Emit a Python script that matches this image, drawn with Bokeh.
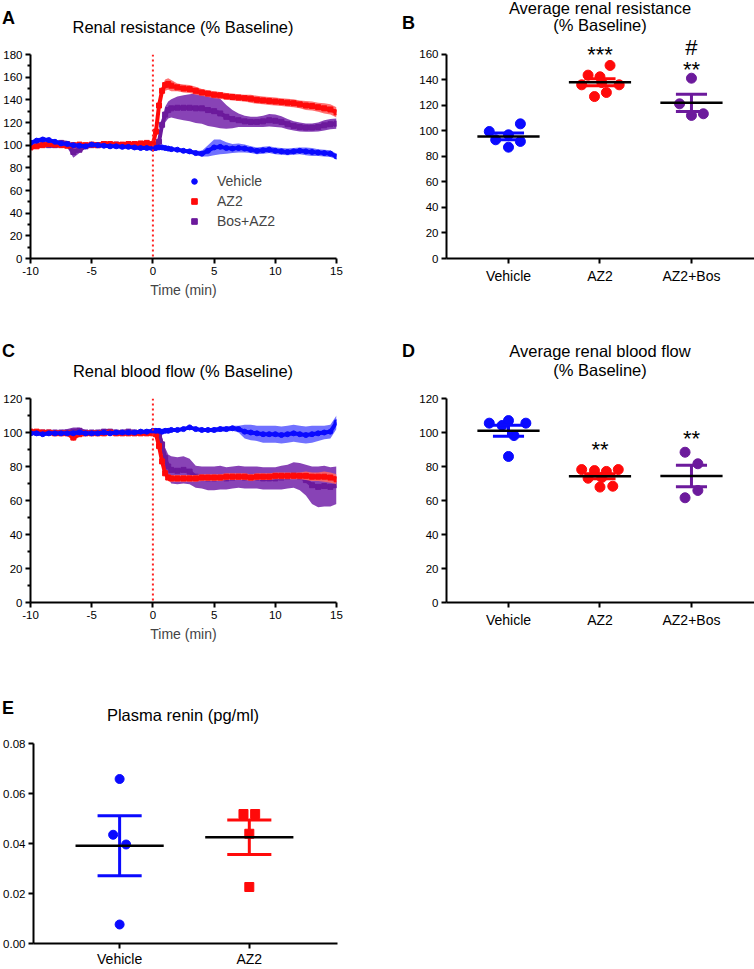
import numpy as np
from bokeh.plotting import figure
from bokeh.layouts import column, row
from bokeh.models import (Range1d, Span, Label, Legend, LegendItem, FixedTicker,
                          NumeralTickFormatter, Div)
from bokeh.embed import file_html
from bokeh.resources import INLINE

FONT = "Liberation Sans"
BLUE = "#0a0aff"
BLUE_BAND = "#6262ff"
RED = "#ff0a0a"
RED_BAND = "#ff6464"
PURPLE = "#6c1a9c"
PURPLE_BAND = "#7b2fae"

# ---------------- time-course data (minutes) ----------------
time_min = [-10, -9.5, -9, -8.5, -8, -7.5, -7, -6.5, -6, -5.5, -5, -4.5, -4, -3.5, -3, -2.5, -2, -1.5, -1, -0.5, 0,
            0.25, 0.5, 0.75, 1, 1.25, 1.5,
            2, 2.5, 3, 3.5, 4, 4.5, 5, 5.5, 6, 6.5, 7, 7.5, 8, 8.5, 9, 9.5, 10, 10.5, 11, 11.5, 12, 12.5, 13, 13.5, 14, 14.5, 15]

# Panel A: renal resistance (% baseline), mean and SEM
resist_vehicle_mean = [102, 104, 105, 104.5, 103, 101.5, 101, 100, 99.5, 99, 100.5, 100, 99.5, 99, 99, 98.5, 98.5, 98, 97.5, 97.5, 97,
                       97.5, 98, 98, 97.5, 97, 96.5,
                       96, 95, 94.5, 93, 92.5, 95, 98, 98.5, 97.5, 97, 97.5, 97, 96, 95, 95.5, 96, 95, 94.5, 94, 94.5, 95, 94.5, 94, 93.5, 93, 92.5, 90]
resist_vehicle_sem = [2, 2, 2, 1.5, 1.5, 1.5, 1.5, 1.5, 1.5, 1.5, 1.5, 1.5, 1.5, 1.5, 1.5, 1.5, 1.5, 1.5, 1.5, 1.5, 1.5,
                      1.5, 1.5, 1.5, 1.5, 1.5, 1.5,
                      1.5, 1.5, 2, 2, 2.5, 5, 7, 6.5, 5, 4, 4, 3.5, 3, 3, 3, 3, 3, 3, 3, 3, 3, 3.5, 3.5, 3, 3, 3, 2.5]
resist_az2_mean = [98, 99, 100, 101, 100.5, 100, 99.5, 100, 100.5, 100, 100.5, 100, 101, 101, 100.5, 100.5, 101, 101, 101.5, 102, 101,
                   112, 135, 148, 153, 154, 152.5,
                   151, 150, 149.5, 148, 146.5, 145.5, 144.5, 144, 143, 142.5, 142, 141.5, 141, 140, 139.5, 139, 138.5, 138, 137.5, 137, 136, 135, 134.5, 133.5, 132.5, 131.5, 129]
resist_az2_sem = [2, 2, 2, 2, 2, 2, 2, 2, 2, 2, 2, 2, 2, 2, 2, 2, 2, 2, 2, 2, 2,
                  3, 4, 4.5, 5, 5, 5,
                  3.5, 3.5, 3.5, 3.5, 3, 3, 3, 3, 3, 3, 3, 3, 3.5, 3.5, 3.5, 3.5, 3.5, 3.5, 3.5, 3.5, 3.5, 4, 4, 4, 4.5, 4.5, 4.5]
resist_bos_mean = [99, 100, 101, 100, 100, 102, 101, 94, 96, 99, 100, 100, 101, 100, 100.5, 100, 100, 100.5, 101, 101, 100,
                   99, 103, 118, 127, 131, 132.5,
                   133, 133, 133, 132.5, 132.5, 131, 130, 128, 125, 123, 122, 121, 120.5, 120.5, 121, 122, 121.5, 120.5, 118.5, 117, 116, 115.5, 115.5, 116, 117.5, 118.5, 119]
resist_bos_sem = [2, 2, 2, 2, 2, 2.5, 3, 5, 3, 2, 2, 2, 2, 2, 2, 2, 2, 2, 2, 2, 2,
                  2, 3, 6, 7, 7.5, 8,
                  10, 11, 12, 13, 13.5, 14, 14, 13, 10.5, 8, 6, 5, 4.5, 4.5, 5, 5.5, 5.5, 5, 4.5, 4, 4, 3.7, 3.7, 4, 4.5, 4.5, 4.5]

# Panel C: renal blood flow (% baseline), mean and SEM
flow_vehicle_mean = [99.5, 99.5, 99, 99.5, 99.5, 99.5, 99.5, 99.5, 100, 99.5, 99.5, 99.5, 100, 99.5, 100, 100, 100, 100, 100.5, 100.5, 101,
                     101, 101, 100.5, 101, 101, 101.5,
                     101.5, 102, 103, 102, 101.5, 101.5, 101.5, 102, 102, 102.5, 102, 100.5, 100, 99.5, 99, 99, 99, 98.5, 99, 99.5, 99, 98.5, 99, 99.5, 100, 100.5, 106]
flow_vehicle_sem = [1, 1, 1, 1, 1, 1, 1, 1, 1, 1, 1, 1, 1, 1, 1, 1, 1, 1, 1, 1, 1,
                    1, 1, 1, 1, 1, 1,
                    1, 1, 1, 1, 1, 1, 1.5, 1.5, 1.5, 1.5, 2, 4, 4.5, 4.5, 5, 5, 5, 5, 5, 5, 5, 5, 5, 4.5, 4, 4, 4]
flow_az2_mean = [100.5, 100.5, 100, 100, 99.5, 99.5, 99.5, 97, 99, 99.5, 99.5, 99.5, 99.5, 100, 99.5, 99.5, 99.5, 99.5, 99.5, 99.5, 99.5,
                 99, 92, 83, 76, 73.5, 73,
                 73, 73, 73, 73, 73.5, 73.5, 73.5, 73.5, 74, 74, 74, 74, 73.5, 74, 74, 74, 74.5, 74.5, 74.5, 74.5, 74.5, 74.5, 74, 74, 74, 73.5, 72.5]
flow_az2_sem = [1.5, 1.5, 1.5, 1.5, 1.5, 1.5, 1.5, 2, 1.5, 1.5, 1.5, 1.5, 1.5, 1.5, 1.5, 1.5, 1.5, 1.5, 1.5, 1.5, 1.5,
                1.5, 2, 2, 2, 2, 2,
                2, 2, 2, 2, 2, 2, 2, 2, 2, 2, 2, 2, 2, 2, 2, 2, 2, 2, 2, 2, 2, 2.5, 2.5, 2.5, 3, 3, 3]
flow_bos_mean = [100, 100, 100, 100, 100, 100, 100, 100.5, 101, 100, 100, 100, 100.5, 100.5, 100, 100, 100.5, 100, 100, 100, 100,
                 100, 99, 93, 85, 80, 78,
                 77.5, 78, 77, 74, 73.5, 73, 73, 73.5, 73, 73.5, 74, 73.5, 73.5, 73.5, 73, 73, 73, 73.5, 74, 75, 74, 72, 69, 68, 68.5, 68, 69]
flow_bos_sem = [1.5, 1.5, 1.5, 1.5, 1.5, 1.5, 2, 2.5, 2, 1.5, 1.5, 1.5, 1.5, 1.5, 1.5, 1.5, 1.5, 1.5, 1.5, 1.5, 1.5,
                1.5, 2, 4, 6, 7, 8,
                8, 8, 7.5, 6.5, 6.5, 7, 7, 7, 6.5, 6.5, 6.5, 6.5, 6.5, 6.5, 6.5, 6.5, 6.5, 7, 7, 7.5, 8, 9, 11, 12, 12, 11.5, 11]

# ---------------- group (dot plot) data ----------------
groups_bd = ["Vehicle", "AZ2", "AZ2+Bos"]
groups_e = ["Vehicle", "AZ2"]

avg_resist_vehicle = [99.6, 105.6, 93.1, 97.0, 91.8, 87.3]
avg_resist_vehicle_jitter = [-0.21, 0.13, -0.14, 0.0, 0.13, 0.0]
avg_resist_az2 = [136.2, 143.8, 142.5, 151.4, 136.2, 127.0, 130.2, 138.0]
avg_resist_az2_jitter = [-0.20, -0.13, 0.0, 0.11, 0.21, -0.06, 0.07, 0.02]
avg_resist_bos = [141.4, 121.3, 112.2, 113.5]
avg_resist_bos_jitter = [0.0, -0.13, 0.0, 0.13]

avg_flow_vehicle = [105.5, 104.1, 107.0, 105.5, 98.2, 85.9]
avg_flow_vehicle_jitter = [-0.21, -0.07, 0.0, 0.19, 0.06, 0.0]
avg_flow_az2 = [78.2, 77.6, 77.1, 78.2, 73.1, 73.5, 67.9, 68.4]
avg_flow_az2_jitter = [-0.20, -0.06, 0.07, 0.20, -0.13, 0.02, 0.0, 0.14]
avg_flow_bos = [88.4, 81.6, 65.9, 61.6]
avg_flow_bos_jitter = [-0.07, 0.07, 0.07, -0.07]

renin_vehicle = [0.0658, 0.0435, 0.0396, 0.0076]
renin_vehicle_jitter = [0.0, -0.05, 0.05, 0.0]
renin_az2 = [0.0518, 0.0518, 0.0439, 0.0226]
renin_az2_jitter = [-0.045, 0.045, 0.0, 0.0]

# tick values
time_ticks = [-10, -5, 0, 5, 10, 15]
resist_ticks = [0, 20, 40, 60, 80, 100, 120, 140, 160, 180]
resist_minor = [10, 30, 50, 70, 90, 110, 130, 150, 170]
flow_ticks = [0, 20, 40, 60, 80, 100, 120]
flow_minor = [10, 30, 50, 70, 90, 110]
avg_resist_ticks = [0, 20, 40, 60, 80, 100, 120, 140, 160]
avg_flow_ticks = [0, 20, 40, 60, 80, 100, 120]
renin_ticks = [0.0, 0.02, 0.04, 0.06, 0.08]

MEAN_HALF = 0.34
CAP_HALF = 0.17


def base_fig(width, height, xr, yr, bl, br, bt, bb):
    p = figure(width=width, height=height, x_range=xr, y_range=yr,
               output_backend="svg", toolbar_location=None,
               min_border_left=bl, min_border_right=br,
               min_border_top=bt, min_border_bottom=bb)
    p.outline_line_color = None
    p.grid.visible = False
    p.background_fill_color = "white"
    for ax in (p.xaxis[0], p.yaxis[0]):
        ax.axis_line_width = 2
        ax.axis_line_color = "black"
        ax.major_tick_line_width = 2
        ax.major_tick_line_color = "black"
        ax.major_tick_out = 5
        ax.major_tick_in = 0
        ax.minor_tick_line_width = 2
        ax.minor_tick_line_color = "black"
        ax.minor_tick_out = 3
        ax.minor_tick_in = 0
        ax.major_label_text_font = FONT
        ax.major_label_text_font_size = "11.5px"
        ax.major_label_text_color = "black"
        ax.major_label_standoff = 3
    return p


def add_text(p, x, y, text, size):
    p.add_layout(Label(x=x, y=y, text=text, text_font=FONT, text_font_size=size,
                       text_align="center", text_baseline="alphabetic", text_color="black"))


def span_html(text, left, top, size, bold=False, width=None):
    style = ("position:absolute;left:%spx;top:%spx;font-size:%spx;line-height:1;"
             "white-space:nowrap;color:black;font-family:'Liberation Sans',Arial,sans-serif;" % (left, top, size))
    if bold:
        style += "font-weight:bold;"
    if width is not None:
        style += "width:%spx;text-align:center;" % width
    return '<span style="%s">%s</span>' % (style, text)


def header(width, height, spans):
    html = ('<div style="position:relative;width:%spx;height:%spx;overflow:visible;">' % (width, height)
            + "".join(spans) + "</div>")
    return Div(text=html, width=width, height=height, margin=(0, 0, 0, 0))


def time_panel(mean_sem, yticks, yminor, ymax, height, bb):
    p = base_fig(380, height, Range1d(-10, 15), Range1d(0, ymax), 22, 44, 8, bb)
    p.xaxis[0].ticker = FixedTicker(ticks=time_ticks)
    p.xaxis[0].major_label_overrides = {t: str(t) for t in time_ticks}
    p.yaxis[0].ticker = FixedTicker(ticks=yticks, minor_ticks=yminor)
    p.xaxis[0].axis_label = "Time (min)"
    p.xaxis[0].axis_label_text_font = FONT
    p.xaxis[0].axis_label_text_font_size = "14px"
    p.xaxis[0].axis_label_text_font_style = "normal"
    p.xaxis[0].axis_label_standoff = 4
    t = np.array(time_min)
    rends = {}
    for key, (m, s, band, col, marker) in mean_sem.items():
        m = np.array(m)
        s = np.array(s)
        p.varea(x=t, y1=m - s, y2=m + s, fill_color=band, fill_alpha=0.9)
        p.line(t, m, line_color=col, line_width=4)
        rends[key] = p.scatter(t, m, marker=marker, size=5, fill_color=col, line_color=col)
    p.add_layout(Span(location=0, dimension="height", line_color="#ff2020",
                      line_width=2, line_dash="2 3"))
    return p, rends


def dot_panel(p, groups, values, jitters, colors, markers, size):
    for i, (vals, jit, col, mk) in enumerate(zip(values, jitters, colors, markers)):
        xc = i + 1
        vals = np.array(vals)
        xs = xc + np.array(jit)
        p.scatter(xs, vals, marker=mk, size=size, fill_color=col, line_color=col)
        mean = vals.mean()
        sem = vals.std(ddof=1) / np.sqrt(len(vals))
        p.segment(x0=[xc], y0=[mean - sem], x1=[xc], y1=[mean + sem], line_color=col, line_width=3)
        p.segment(x0=[xc - CAP_HALF, xc - CAP_HALF], y0=[mean - sem, mean + sem],
                  x1=[xc + CAP_HALF, xc + CAP_HALF], y1=[mean - sem, mean + sem],
                  line_color=col, line_width=3)
        p.segment(x0=[xc - MEAN_HALF], y0=[mean], x1=[xc + MEAN_HALF], y1=[mean],
                  line_color="black", line_width=2.5)
    p.xaxis[0].ticker = FixedTicker(ticks=list(range(1, len(groups) + 1)))
    p.xaxis[0].major_label_overrides = {i + 1: g for i, g in enumerate(groups)}
    p.xaxis[0].major_label_text_font_size = "14px"
    p.xaxis[0].major_label_standoff = 4


# ---------------- Panel A ----------------
pA, rA = time_panel({
    "Bos+AZ2": (resist_bos_mean, resist_bos_sem, PURPLE_BAND, PURPLE, "square"),
    "AZ2": (resist_az2_mean, resist_az2_sem, RED_BAND, RED, "square"),
    "Vehicle": (resist_vehicle_mean, resist_vehicle_sem, BLUE_BAND, BLUE, "circle"),
}, resist_ticks, resist_minor, 180, 264, 52)
legend = Legend(items=[LegendItem(label=k, renderers=[rA[k]]) for k in ["Vehicle", "AZ2", "Bos+AZ2"]],
                location=(157, 27))
legend.border_line_color = None
legend.background_fill_alpha = 0
legend.label_text_font = FONT
legend.label_text_font_size = "14px"
legend.glyph_width = 14
legend.glyph_height = 14
legend.label_height = 20
legend.label_standoff = 16
legend.spacing = 0
legend.padding = 0
legend.margin = 0
pA.add_layout(legend)
hA = header(380, 46, [span_html("A", 2, 9, 18, bold=True),
                      span_html("Renal resistance (% Baseline)", 0, 19.3, 16.5, width=366)])

# ---------------- Panel B ----------------
# frame reaches above 160 so the "#" mark is not clipped; the axis itself is drawn only to 160
pB = base_fig(374, 274, Range1d(0.3224, 3.689), Range1d(0, 174.1), 66, 0, 0, 52)
pB.yaxis[0].ticker = FixedTicker(ticks=avg_resist_ticks)
pB.yaxis[0].bounds = (0, 160)
dot_panel(pB, groups_bd, [avg_resist_vehicle, avg_resist_az2, avg_resist_bos],
          [avg_resist_vehicle_jitter, avg_resist_az2_jitter, avg_resist_bos_jitter],
          [BLUE, RED, PURPLE], ["circle", "circle", "circle"], 10)
add_text(pB, 2.0, 159.7, "***", "22px")
add_text(pB, 3.0, 165.5, "#", "22px")
add_text(pB, 3.0, 148.2, "**", "22px")
hB = header(374, 36, [span_html("B", 22, 14, 18, bold=True),
                      span_html("Average renal resistance", 0, 0, 16.5, width=440),
                      span_html("(% Baseline)", 0, 17, 16.5, width=440)])

# ---------------- Panel C ----------------
pC, rC = time_panel({
    "Bos+AZ2": (flow_bos_mean, flow_bos_sem, PURPLE_BAND, PURPLE, "square"),
    "AZ2": (flow_az2_mean, flow_az2_sem, RED_BAND, RED, "square"),
    "Vehicle": (flow_vehicle_mean, flow_vehicle_sem, BLUE_BAND, BLUE, "circle"),
}, flow_ticks, flow_minor, 120, 263, 51)
hC = header(380, 80, [span_html("C", 2, 32, 18, bold=True),
                      span_html("Renal blood flow (% Baseline)", 0, 52.5, 16.5, width=366)])

# ---------------- Panel D ----------------
pD = base_fig(374, 263, Range1d(0.3224, 3.689), Range1d(0, 120), 66, 0, 8, 51)
pD.yaxis[0].ticker = FixedTicker(ticks=avg_flow_ticks)
dot_panel(pD, groups_bd, [avg_flow_vehicle, avg_flow_az2, avg_flow_bos],
          [avg_flow_vehicle_jitter, avg_flow_az2_jitter, avg_flow_bos_jitter],
          [BLUE, RED, PURPLE], ["circle", "circle", "circle"], 10)
add_text(pD, 2.0, 89.9, "**", "22px")
add_text(pD, 3.0, 96.6, "**", "22px")
hD = header(374, 80, [span_html("D", 22, 32, 18, bold=True),
                      span_html("Average renal blood flow", 0, 32.7, 16.5, width=440),
                      span_html("(% Baseline)", 0, 52, 16.5, width=440)])

# ---------------- Panel E ----------------
pE = base_fig(380, 234, Range1d(0.336, 2.68), Range1d(0, 0.08), 22, 43, 8, 22)
pE.yaxis[0].ticker = FixedTicker(ticks=renin_ticks)
pE.yaxis[0].formatter = NumeralTickFormatter(format="0.00")
dot_panel(pE, groups_e, [renin_vehicle, renin_az2],
          [renin_vehicle_jitter, renin_az2_jitter],
          [BLUE, RED], ["circle", "square"], 9)
pE.xaxis[0].major_label_standoff = 2
hE = header(380, 82, [span_html("E", 2, 46, 18, bold=True),
                      span_html("Plasma renin (pg/ml)", 0, 53.7, 16.5, width=366)])

layout = column(row(column(hA, pA), column(hB, pB)),
                row(column(hC, pC), column(hD, pD)),
                column(hE, pE))
open("out.html", "w").write(file_html(layout, INLINE))
